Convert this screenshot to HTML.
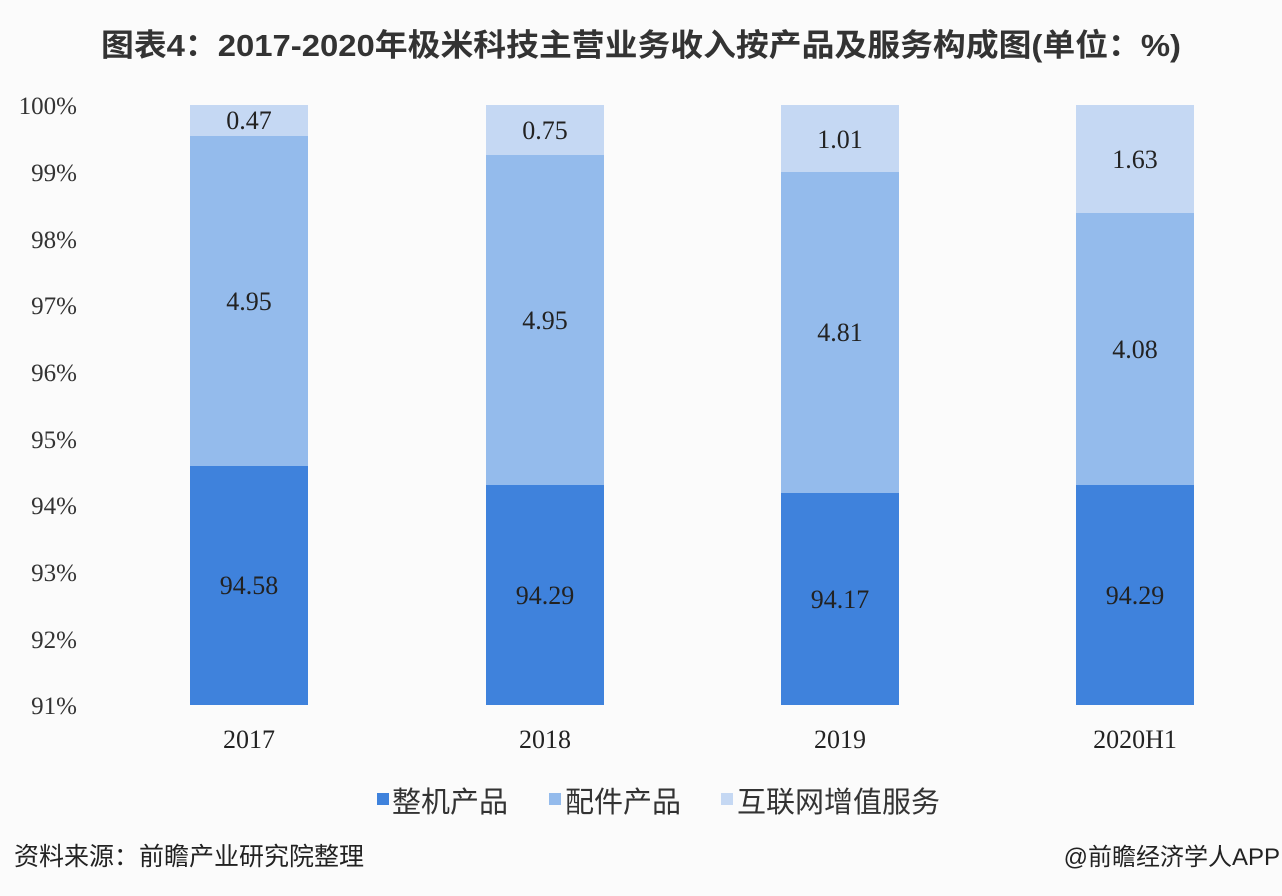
<!DOCTYPE html>
<html><head><meta charset="utf-8"><style>
html,body{margin:0;padding:0;background:#fbfbfb;}
svg{display:block}
</style></head><body>
<svg width="1282" height="896" xmlns="http://www.w3.org/2000/svg">
<rect width="1282" height="896" fill="#fbfbfb"/>
<text x="641" y="56" text-anchor="middle" font-family="'Liberation Sans','Noto Sans CJK SC',sans-serif" font-weight="bold" font-size="31" fill="#333" textLength="1080" lengthAdjust="spacingAndGlyphs">图表4：2017-2020年极米科技主营业务收入按产品及服务构成图(单位：%)</text>
<g font-family="'Liberation Serif','Noto Serif CJK SC',serif" font-size="25" fill="#333" text-anchor="end">
<text x="77" y="114">100%</text>
<text x="77" y="181">99%</text>
<text x="77" y="248">98%</text>
<text x="77" y="314">97%</text>
<text x="77" y="381">96%</text>
<text x="77" y="448">95%</text>
<text x="77" y="514">94%</text>
<text x="77" y="581">93%</text>
<text x="77" y="648">92%</text>
<text x="77" y="714">91%</text>
</g>
<g>
<rect x="190" y="105" width="118" height="31" fill="#c5d8f3"/>
<rect x="190" y="136" width="118" height="330" fill="#94bbec"/>
<rect x="190" y="466" width="118" height="239" fill="#3f82dc"/>
<rect x="486" y="105" width="118" height="50" fill="#c5d8f3"/>
<rect x="486" y="155" width="118" height="330" fill="#94bbec"/>
<rect x="486" y="485" width="118" height="220" fill="#3f82dc"/>
<rect x="781" y="105" width="118" height="67" fill="#c5d8f3"/>
<rect x="781" y="172" width="118" height="321" fill="#94bbec"/>
<rect x="781" y="493" width="118" height="212" fill="#3f82dc"/>
<rect x="1076" y="105" width="118" height="108" fill="#c5d8f3"/>
<rect x="1076" y="213" width="118" height="272" fill="#94bbec"/>
<rect x="1076" y="485" width="118" height="220" fill="#3f82dc"/>
</g>
<g font-family="'Liberation Serif',serif" font-size="26" fill="#222" text-anchor="middle">
<text x="249" y="129">0.47</text>
<text x="249" y="310">4.95</text>
<text x="249" y="594">94.58</text>
<text x="545" y="139">0.75</text>
<text x="545" y="329">4.95</text>
<text x="545" y="604">94.29</text>
<text x="840" y="148">1.01</text>
<text x="840" y="341">4.81</text>
<text x="840" y="608">94.17</text>
<text x="1135" y="168">1.63</text>
<text x="1135" y="358">4.08</text>
<text x="1135" y="604">94.29</text>
<text x="249" y="748">2017</text>
<text x="545" y="748">2018</text>
<text x="840" y="748">2019</text>
<text x="1135" y="748">2020H1</text>
</g>
<g font-family="'Liberation Sans','Noto Sans CJK SC',sans-serif" font-size="29" fill="#333">
<rect x="377" y="793" width="12" height="12" fill="#3f82dc"/>
<text x="392" y="812">整机产品</text>
<rect x="549" y="793" width="12" height="12" fill="#94bbec"/>
<text x="565" y="812">配件产品</text>
<rect x="721" y="793" width="12" height="12" fill="#c5d8f3"/>
<text x="737" y="812">互联网增值服务</text>
</g>
<g font-family="'Liberation Sans','Noto Sans CJK SC',sans-serif" font-size="25" fill="#222">
<text x="14" y="865">资料来源：前瞻产业研究院整理</text>
<text x="1280" y="865" text-anchor="end" font-size="24">@前瞻经济学人APP</text>
</g>
</svg>
</body></html>
